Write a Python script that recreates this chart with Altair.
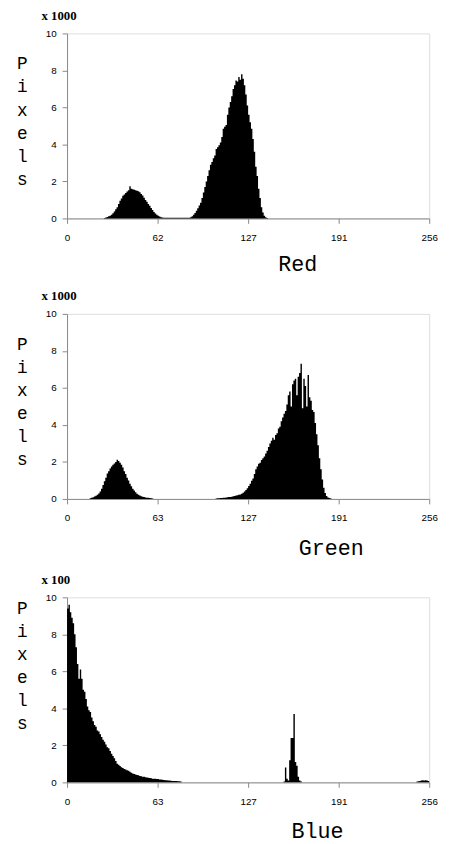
import altair as alt
import pandas as pd

# ---- tick positions / labels (ticks sit at the quarter points of 0..256) ----
x_tick_pos = [0, 64, 128, 192, 256]
red_tick_labels = ["0", "62", "127", "191", "256"]
green_tick_labels = ["0", "63", "127", "191", "256"]
blue_tick_labels = ["0", "63", "127", "191", "256"]
y_tick_values = [0, 2, 4, 6, 8, 10]
y_title_letters = ["P", "i", "x", "e", "l", "s"]

# ---- Red histogram (x 1000 pixels) ----
red_low_start = 26
red_low = [0.03, 0.05, 0.08, 0.12, 0.15, 0.2, 0.28, 0.38, 0.5, 0.6, 0.78, 0.95,
           1.08, 1.22, 1.3, 1.38, 1.46, 1.52, 1.74, 1.6, 1.58, 1.55, 1.52, 1.5,
           1.47, 1.42, 1.32, 1.24, 1.12, 1.0, 0.9, 0.78, 0.68, 0.57, 0.45, 0.35,
           0.27, 0.2, 0.14, 0.1, 0.07, 0.05, 0.04, 0.04,
           0.04, 0.04, 0.04, 0.04, 0.04, 0.04, 0.04, 0.04, 0.04, 0.04, 0.04,
           0.04, 0.04, 0.04, 0.04, 0.04, 0.04]
red_high_start = 87
red_high = [0.06, 0.12, 0.2, 0.3, 0.42, 0.55, 0.7, 0.85, 1.1, 1.4, 1.7, 2.0,
            2.3, 2.6, 2.9, 3.05, 3.25, 3.4, 3.75, 3.85, 3.95, 4.1, 4.4, 4.85,
            4.95, 5.05, 5.6, 6.0, 6.3, 6.6, 7.0, 7.2, 7.45, 7.4, 7.65, 7.5,
            7.8, 7.55, 7.2, 6.7, 6.1, 5.6, 5.2, 4.85, 4.3, 3.6, 2.8, 2.3, 1.6,
            1.1, 0.6, 0.32, 0.15, 0.06, 0.03]

# ---- Green histogram (x 1000 pixels) ----
green_low_start = 16
green_low = [0.04, 0.06, 0.09, 0.13, 0.17, 0.23, 0.3, 0.4, 0.55, 0.75, 0.95,
             1.15, 1.38, 1.5, 1.65, 1.75, 1.85, 1.92, 2.0, 2.12, 2.05, 1.95,
             1.85, 1.7, 1.5, 1.35, 1.15, 1.0, 0.82, 0.68, 0.55, 0.45, 0.36,
             0.28, 0.22, 0.18, 0.15, 0.12, 0.1, 0.08, 0.07, 0.06, 0.05, 0.04,
             0.03]
green_high_start = 105
green_high = [0.03, 0.04, 0.04, 0.05, 0.05, 0.06, 0.07, 0.08, 0.09, 0.1, 0.11,
              0.12, 0.14, 0.16, 0.18, 0.2, 0.22, 0.24, 0.28, 0.33, 0.4, 0.48,
              0.58, 0.7, 0.82, 0.98, 1.1, 1.35, 1.6, 1.75, 1.9, 1.95, 2.1, 2.2,
              2.3, 2.45, 2.6, 2.8, 3.0, 3.15, 3.3, 3.2, 3.45, 3.55, 3.8, 3.9,
              4.2, 4.4, 4.6, 4.75, 5.1, 5.6, 5.8, 5.0, 6.2, 6.4, 6.5, 5.6, 6.6,
              6.8, 7.3, 4.9, 6.5, 6.1, 5.0, 6.7, 5.5, 5.3, 4.8, 4.7, 4.1, 3.5,
              2.9, 2.2, 1.6, 1.05, 0.6, 0.32, 0.16, 0.08, 0.05, 0.03]

# ---- Blue histogram (x 100 pixels) ----
blue_low_start = 0
blue_low = [9.4, 9.6, 9.2, 8.9, 8.6, 8.0, 7.3, 6.4, 5.6, 6.1, 5.6, 5.0, 4.9,
            4.5, 4.1, 3.9, 3.8, 3.5, 3.3, 3.1, 3.0, 2.8, 2.75, 2.6, 2.45, 2.3,
            2.2, 2.05, 1.9, 1.85, 1.7, 1.55, 1.42, 1.3, 1.15, 1.0, 0.95, 0.88,
            0.82, 0.78, 0.72, 0.7, 0.66, 0.63, 0.58, 0.52, 0.48, 0.45, 0.42,
            0.4, 0.38, 0.35, 0.33, 0.31, 0.3, 0.28, 0.26, 0.25, 0.23, 0.22, 0.2,
            0.2, 0.19, 0.18, 0.18, 0.16, 0.15, 0.14, 0.13, 0.12, 0.11, 0.1, 0.1,
            0.09, 0.08, 0.08, 0.07, 0.07, 0.06, 0.06, 0.05]
blue_spike_start = 153
blue_spike = [0.05, 0.8, 0.2, 0.1, 1.2, 2.4, 2.4, 3.7, 1.1, 0.9, 0.3, 0.1, 0.05]
blue_end_start = 247
blue_end = [0.05, 0.06, 0.08, 0.1, 0.12, 0.1, 0.12, 0.1, 0.08]


def table(segments):
    counts = [0.0] * 257
    for start, vals in segments:
        for i, v in enumerate(vals):
            counts[start + i] = v
    return pd.DataFrame({"bin": list(range(257)), "count": counts})


def label_expr(labels):
    parts = " : ".join(
        f"datum.value == {p} ? '{l}'" for p, l in zip(x_tick_pos, labels)
    )
    return parts + " : ''"


def panel(df, labels, xtitle, unit, ytitle_y, xtitle_x, xtitle_y):
    return (
        alt.Chart(df)
        .mark_area(interpolate="step-after", color="black", opacity=1)
        .encode(
            x=alt.X(
                "bin:Q",
                scale=alt.Scale(domain=[0, 256], nice=False, zero=False),
                axis=alt.Axis(
                    values=x_tick_pos,
                    labelExpr=label_expr(labels),
                    grid=False,
                    title=xtitle,
                    titleX=xtitle_x,
                    titleY=xtitle_y,
                    titleAlign="center",
                    titleBaseline="alphabetic",
                    titleFont="Liberation Mono",
                    titleFontSize=22,
                    titleFontWeight="normal",
                    labelPadding=9,
                    labelFlush=False,
                ),
            ),
            y=alt.Y(
                "count:Q",
                scale=alt.Scale(domain=[0, 10], nice=False),
                axis=alt.Axis(
                    values=y_tick_values,
                    grid=False,
                    title=y_title_letters,
                    titleAngle=0,
                    titleAlign="center",
                    titleBaseline="top",
                    titleX=-46,
                    titleY=ytitle_y,
                    titleLineHeight=23.5,
                    titleFont="Liberation Mono",
                    titleFontSize=18,
                    titleFontWeight="normal",
                    labelPadding=6,
                    labelFlush=False,
                ),
            ),
        )
        .properties(
            width=368,
            height=188,
            title=alt.TitleParams(
                unit,
                anchor="start",
                frame="group",
                dx=-26,
                offset=-4,
                baseline="alphabetic",
                font="Liberation Serif",
                fontSize=13,
                fontWeight="bold",
                color="black",
            ),
        )
    )


red = panel(table([(red_low_start, red_low), (red_high_start, red_high)]),
            red_tick_labels, "Red", "x 1000", 22, 234, 53)
green = panel(table([(green_low_start, green_low), (green_high_start, green_high)]),
              green_tick_labels, "Green", "x 1000", 22, 268, 56)
blue = panel(table([(blue_low_start, blue_low), (blue_spike_start, blue_spike),
                    (blue_end_start, blue_end)]),
             blue_tick_labels, "Blue", "x 100", 2, 254, 56)

chart = (
    alt.vconcat(red, green, blue, spacing=14)
    .properties(padding={"left": 8, "top": -6, "right": 5, "bottom": 8})
    .configure_view(stroke="black", strokeWidth=2)
    .configure_axis(
        grid=False,
        domainColor="black",
        domainWidth=1.5,
        tickColor="black",
        tickWidth=1.5,
        tickSize=4,
        labelColor="black",
        titleColor="black",
        labelFont="Liberation Serif",
        labelFontSize=13,
        labelFontWeight="bold",
    )
    .configure(background="white")
)

chart.save("out.html", embed_options={"renderer": "svg", "actions": False})
